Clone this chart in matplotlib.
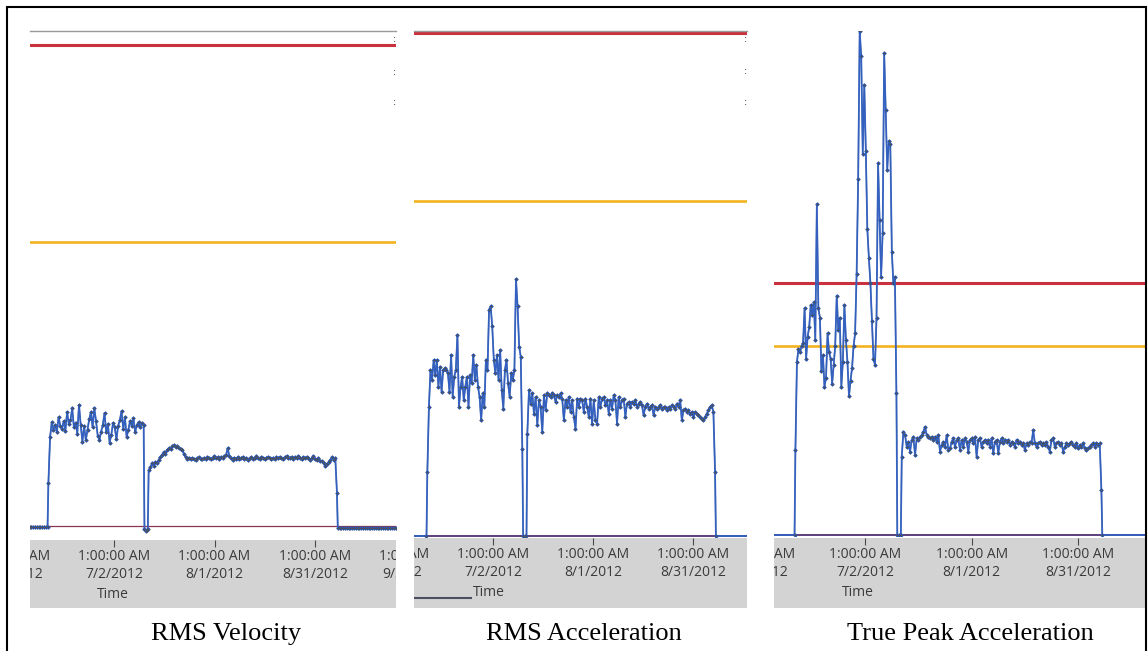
import matplotlib
matplotlib.use("Agg")
import matplotlib.pyplot as plt
import matplotlib.transforms as mtrans
from matplotlib.patches import Rectangle
import pandas as pd

# ---------------- data ----------------
# time spans of the machine states (shared by all three trends)
span_off_before = ("2012-06-03 00:00", "2012-06-12 02:00")
span_run1 = ("2012-06-12 08:00", "2012-07-10 20:00")
span_gap = ("2012-07-11 02:00", "2012-07-12 02:00")
span_run2 = ("2012-07-12 08:00", "2012-09-06 16:00")
span_off_after = ("2012-09-06 22:00", "2012-09-28 00:00")

tick_dates = ["2012-06-02 01:00", "2012-07-02 01:00", "2012-08-01 01:00",
              "2012-08-31 01:00", "2012-09-30 01:00"]
tick_time_labels = ["1:00:00 AM", "1:00:00 AM", "1:00:00 AM", "1:00:00 AM", "1:00:00 AM"]
tick_date_labels = ["6/2/2012", "7/2/2012", "8/1/2012", "8/31/2012", "9/30/2012"]

titles = ["RMS Velocity", "RMS Acceleration", "True Peak Acceleration"]

# RMS velocity (mm/s)
vel_off_before = [-0.02, -0.03, -0.02, -0.03, -0.02, -0.02, -0.03, -0.02, -0.02,
                  -0.03, -0.02, -0.02, -0.03, -0.02, -0.02, -0.03, -0.02, -0.02]
vel_run1 = [0.89, 1.85, 2.16, 2.00, 2.10, 1.95, 2.27, 2.08, 2.02, 2.18,
            1.98, 2.37, 2.12, 2.20, 2.45, 2.05, 2.15, 1.92, 2.52, 2.10,
            1.75, 2.08, 1.78, 2.00, 2.22, 2.37, 2.05, 2.45, 2.18, 1.88,
            1.79, 1.96, 2.10, 2.35, 1.95, 2.12, 1.73, 1.90, 2.14, 2.05,
            1.80, 2.08, 2.20, 2.39, 2.02, 2.26, 1.85, 2.00, 2.18, 2.08,
            2.24, 1.95, 2.10, 2.16, 2.05, 2.14, 2.10]
vel_gap = [-0.06, -0.10, -0.08, -0.06]
vel_run2 = [1.16, 1.22, 1.30, 1.25, 1.33, 1.30, 1.38, 1.43, 1.48, 1.54, 1.50, 1.58,
            1.62, 1.60, 1.66, 1.68, 1.65, 1.67, 1.62, 1.60, 1.58, 1.50, 1.43,
            1.40, 1.42, 1.39, 1.41, 1.40, 1.38, 1.41, 1.43, 1.40, 1.39,
            1.42, 1.40, 1.44, 1.41, 1.39, 1.42, 1.45, 1.41, 1.43, 1.40,
            1.44, 1.42, 1.45, 1.47, 1.62, 1.45, 1.41, 1.38, 1.42, 1.40,
            1.43, 1.39, 1.41, 1.44, 1.40, 1.42, 1.38, 1.41, 1.43, 1.40,
            1.42, 1.45, 1.41, 1.39, 1.43, 1.41, 1.40, 1.42, 1.44, 1.41,
            1.39, 1.42, 1.40, 1.43, 1.41, 1.44, 1.42, 1.40, 1.43, 1.45,
            1.41, 1.42, 1.44, 1.40, 1.43, 1.41, 1.46, 1.42, 1.40, 1.43,
            1.41, 1.44, 1.42, 1.38, 1.41, 1.45, 1.40, 1.37, 1.42, 1.36,
            1.35, 1.30, 1.25, 1.28, 1.33, 1.37, 1.43, 1.38, 1.42, 0.69]
vel_off_after = [-0.04, -0.05, -0.04, -0.04, -0.05, -0.04, -0.05, -0.04, -0.04, -0.05,
                 -0.04, -0.05, -0.04, -0.04, -0.05, -0.04, -0.05, -0.04, -0.04, -0.05,
                 -0.04, -0.05, -0.04, -0.04, -0.05, -0.04, -0.05, -0.04, -0.04, -0.05,
                 -0.04, -0.05, -0.04, -0.04, -0.05, -0.04, -0.05, -0.04, -0.04, -0.05]
vel_alarm_danger = 10.0
vel_alarm_alert = 5.9

# RMS acceleration (g)
acc_off_before = [0.0, 0.0]
acc_run1 = [0.38, 0.77, 0.99, 0.93, 1.05, 0.96, 1.05, 0.89, 1.01, 0.86,
            0.99, 1.00, 0.99, 0.97, 0.86, 1.08, 0.83, 0.95, 0.99, 1.20,
            0.77, 0.89, 0.95, 0.81, 0.89, 0.95, 0.77, 0.96, 0.91, 1.08,
            0.93, 1.02, 0.89, 0.83, 0.69, 0.85, 0.77, 1.05, 0.99, 1.35,
            1.37, 1.25, 1.05, 0.97, 1.08, 0.93, 1.11, 0.87, 0.76, 0.99,
            1.05, 0.91, 0.83, 0.97, 0.93, 0.99, 1.53, 1.37, 1.13, 1.07, 0.52]
acc_gap = [0.0, 0.0, 0.0]
acc_run2 = [0.61, 0.87, 0.79, 0.85, 0.73, 0.83, 0.66, 0.81, 0.77, 0.62, 0.84, 0.75, 0.85,
            0.84, 0.83, 0.85, 0.84, 0.80, 0.84, 0.83, 0.85, 0.82,
            0.69, 0.81, 0.77, 0.83, 0.74, 0.81, 0.71, 0.64, 0.82, 0.77,
            0.82, 0.81, 0.74, 0.82, 0.77, 0.71, 0.82, 0.67, 0.81, 0.69,
            0.67, 0.83, 0.77, 0.82, 0.83, 0.78, 0.81, 0.73, 0.81, 0.76,
            0.84, 0.81, 0.67, 0.83, 0.77, 0.81, 0.82, 0.71, 0.79, 0.80,
            0.77, 0.80, 0.79, 0.81, 0.77, 0.79, 0.80, 0.78, 0.72, 0.77,
            0.79, 0.76, 0.77, 0.78, 0.72, 0.77, 0.76, 0.77, 0.78, 0.76,
            0.77, 0.77, 0.75, 0.77, 0.76, 0.78, 0.77, 0.76, 0.79, 0.77,
            0.81, 0.69, 0.75, 0.76, 0.74, 0.75, 0.73, 0.74, 0.71, 0.74,
            0.73, 0.72, 0.71, 0.70, 0.69, 0.71, 0.73, 0.75, 0.77, 0.78, 0.74, 0.38]
acc_off_after = [0.0, 0.0]
acc_alarm_danger = 3.0
acc_alarm_alert = 2.0

# True peak acceleration (g)
pk_off_before = [0.0, 0.0]
pk_run1 = [2.7, 5.5, 5.9, 5.8, 6.0, 6.1, 7.2, 5.6, 6.3, 6.6, 7.3, 7.0, 7.4, 6.2,
           10.5, 7.2, 6.9, 5.2, 5.7, 4.7, 5.0, 6.4, 5.8, 5.6, 4.8, 5.4, 6.0, 7.6,
           6.5, 6.9, 4.7, 5.5, 7.3, 6.2, 5.5, 4.4, 4.9, 5.3, 6.0, 6.4, 8.3, 11.3,
           16.0, 15.2, 12.1, 14.3, 12.2, 9.7, 8.8, 8.0, 6.8, 5.6, 5.4, 6.9, 11.8,
           10.0, 8.2, 9.6, 15.3, 13.5, 11.6, 12.5, 12.4, 9.0, 8.0, 8.2, 4.5]
pk_gap = [0.0, 0.0, 0.0]
pk_run2 = [2.49, 3.28, 3.17, 2.80, 2.96, 2.65, 3.02, 3.12, 2.54, 3.07, 3.02,
           3.12, 3.17, 3.28, 3.44, 3.17, 3.12, 3.07, 3.12, 3.02, 3.12, 2.96,
           3.17, 2.65, 2.86, 2.96, 2.80, 3.17, 2.70, 2.75, 2.96, 3.07, 2.80,
           3.02, 3.07, 2.70, 3.02, 2.80, 3.07, 2.96, 2.65, 3.02, 3.07, 2.91,
           3.12, 2.49, 3.02, 3.07, 2.80, 2.96, 3.02, 2.91, 3.02, 2.80, 3.07,
           2.59, 2.96, 3.02, 2.59, 2.96, 3.07, 2.91, 3.02, 2.96, 3.02, 2.86,
           2.96, 2.91, 2.80, 3.02, 2.91, 2.96, 2.86, 2.91, 2.70, 2.91, 2.86,
           2.96, 2.91, 3.33, 2.91, 2.80, 2.91, 2.96, 2.86, 2.91, 2.86, 2.96,
           2.80, 2.65, 3.02, 3.07, 2.80, 2.91, 2.96, 2.86, 2.91, 2.65, 2.80,
           2.91, 2.86, 2.91, 2.96, 2.86, 2.80, 2.91, 2.75, 2.86, 2.80, 2.91,
           2.75, 2.70, 2.75, 2.80, 2.86, 2.91, 2.80, 2.91, 2.86, 2.91, 1.43]
pk_off_after = [0.0, 0.0]
pk_alarm_danger = 8.0
pk_alarm_alert = 6.0

# visible time windows of the three cropped screenshots
xlims = [("2012-06-06 20:00", "2012-09-24 08:00"),
         ("2012-06-08 08:00", "2012-09-16 06:00"),
         ("2012-06-06 07:00", "2012-09-19 06:00")]
ylims = [(-0.25, 10.29), (-0.006, 3.012), (-0.03, 16.0)]

# ---------------- layout ----------------
W, H = 1148, 651
fig = plt.figure(figsize=(W / 100, H / 100), dpi=100)
fig.patch.set_facecolor("white")


def box(x0, y0, x1, y1):
    return [x0 / W, 1 - y1 / H, (x1 - x0) / W, (y1 - y0) / H]


plot_boxes = [box(30, 31, 396, 538), box(414, 31, 747, 537), box(774, 31, 1146, 536)]
band_boxes = [box(30, 540, 396, 608), box(414, 538, 747, 608), box(774, 538, 1146, 608)]
caption_x = [226, 584, 970]

spans = [span_off_before, span_run1, span_gap, span_run2, span_off_after]
series = [
    (vel_off_before, vel_run1, vel_gap, vel_run2, vel_off_after),
    (acc_off_before, acc_run1, acc_gap, acc_run2, acc_off_after),
    (pk_off_before, pk_run1, pk_gap, pk_run2, pk_off_after),
]
alarms = [(vel_alarm_danger, vel_alarm_alert),
          (acc_alarm_danger, acc_alarm_alert),
          (pk_alarm_danger, pk_alarm_alert)]

RED = "#c9323c"
YEL = "#f2b31e"
LINE = "#2d5fc8"
STEEP = "#5a6a88"
BLUE = "#1f5ad6"
DARK = "#4a5262"
BAND = "#d3d3d3"

for i in range(3):
    ax = fig.add_axes(plot_boxes[i])
    times, vals = [], []
    for part, (a, b) in zip(series[i], spans):
        times.extend(pd.date_range(a, b, periods=len(part)))
        vals.extend(part)
    danger, alert = alarms[i]
    ax.axhline(danger, color=RED, lw=2.2, zorder=2)
    ax.axhline(alert, color=YEL, lw=1.9, zorder=2)
    ax.axhline(0, color="#8a3550" if i == 0 else "#5c3f7c", lw=0.9 if i == 0 else 1.4, zorder=2)
    ax.plot(times, vals, color=STEEP, lw=1.0, zorder=3)
    ax.plot(times, vals, color=LINE, lw=1.3, zorder=3, alpha=0.85)
    ax.plot(times, vals, ls="none", marker="o", ms=2.6, mew=0, color=BLUE, zorder=4)
    ax.plot(times, vals, ls="none", marker="+", ms=3.2, mew=0.6, color=DARK, zorder=5)
    ax.set_xlim(pd.Timestamp(xlims[i][0]), pd.Timestamp(xlims[i][1]))
    ax.set_ylim(*ylims[i])
    ax.set_xticks([])
    ax.set_yticks([])
    for s in ax.spines.values():
        s.set_visible(False)
    if i < 2:
        ax.spines["top"].set_visible(True)
        ax.spines["top"].set_color("#9a9a9a")
        ax.spines["top"].set_linewidth(1.0)
        for yy in (0.985, 0.92, 0.86):
            ax.text(1.0, yy, ":", transform=ax.transAxes, ha="right", va="center",
                    fontsize=7, color="#333333")

    bx = fig.add_axes(band_boxes[i])
    bx.set_facecolor(BAND)
    for s in bx.spines.values():
        s.set_visible(False)
    tds = [pd.Timestamp(d) for d in tick_dates]
    bx.set_xticks(tds)
    bx.set_yticks([])
    bx.set_xlim(pd.Timestamp(xlims[i][0]), pd.Timestamp(xlims[i][1]))
    bx.set_ylim(0, 1)
    bx.tick_params(axis="x", top=True, bottom=False, labeltop=False, labelbottom=False,
                   direction="in", length=5, width=0.8, color="#4a4a4a")
    trans = mtrans.blended_transform_factory(bx.transData, bx.transAxes)
    hpx = (band_boxes[i][3]) * H
    for d, tl, dl in zip(tds, tick_time_labels, tick_date_labels):
        t1 = bx.text(d, 1 - 16 / hpx, tl, transform=trans, ha="center", va="center",
                     fontsize=10, color="#3a3a3a", family="Open Sans", clip_on=True)
        t2 = bx.text(d, 1 - 34 / hpx, dl, transform=trans, ha="center", va="center",
                     fontsize=10, color="#3a3a3a", family="Open Sans", clip_on=True)
        t1.set_clip_path(bx.patch)
        t2.set_clip_path(bx.patch)
    bx.text(0.225, 1 - 54 / hpx, "Time", transform=bx.transAxes, ha="center", va="center",
            fontsize=10, color="#3a3a3a", family="Open Sans")
    if i == 1:
        bx.plot([0, 0.17], [10 / hpx, 10 / hpx], transform=bx.transAxes, color="#4a5060", lw=1.5)

    fig.text(caption_x[i] / W, 1 - 634 / H, titles[i], ha="center", va="center",
             fontsize=19, family="Liberation Serif", color="black")

# outer frame of the composite figure
fig.add_artist(Rectangle((7 / W, -0.05), (1146 - 7) / W, 1.05 - 7 / H,
                         transform=fig.transFigure, fill=False, lw=1.5, ec="black"))

fig.savefig("out.png", dpi=100)
